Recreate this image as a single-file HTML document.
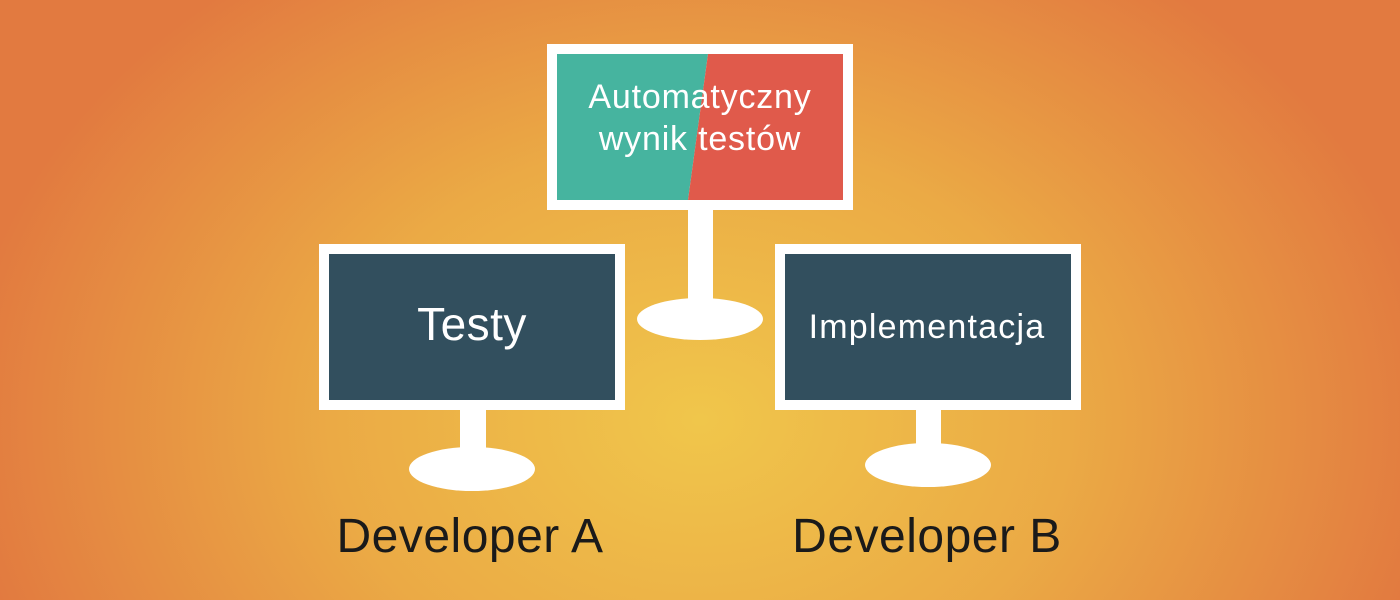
<!DOCTYPE html>
<html><head><meta charset="utf-8"><style>
html,body{margin:0;padding:0}
body{width:1400px;height:600px;overflow:hidden;background:radial-gradient(ellipse 740px 560px at 700px 420px,#f0c64b 0%,#ebaa45 50%,#e27a40 100%);font-family:"Liberation Sans",sans-serif;}
</style></head><body>
<svg width="1400" height="600" style="position:absolute;left:0;top:0">
<rect x="688" y="205" width="25" height="100" fill="#fff"/>
<ellipse cx="700" cy="319" rx="63" ry="21" fill="#fff"/>
<rect x="547" y="44" width="306" height="166" fill="#fff"/>
<polygon points="557,54 708,54 688,200 557,200" fill="#46b49f"/>
<polygon points="708,54 843,54 843,200 688,200" fill="#e05a4b"/>
<text x="700" y="108" text-anchor="middle" font-size="34" letter-spacing="0.8" fill="#fff">Automatyczny</text>
<text x="700" y="150" text-anchor="middle" font-size="34" letter-spacing="0.8" fill="#fff">wynik testów</text>
<rect x="460" y="405" width="26" height="55" fill="#fff"/>
<ellipse cx="472" cy="469" rx="63" ry="22" fill="#fff"/>
<rect x="319" y="244" width="306" height="166" fill="#fff"/>
<rect x="329" y="254" width="286" height="146" fill="#324f5e"/>
<text x="472" y="340" text-anchor="middle" font-size="46" letter-spacing="0.5" fill="#fff">Testy</text>
<rect x="916" y="405" width="25" height="55" fill="#fff"/>
<ellipse cx="928" cy="465" rx="63" ry="22" fill="#fff"/>
<rect x="775" y="244" width="306" height="166" fill="#fff"/>
<rect x="785" y="254" width="286" height="146" fill="#324f5e"/>
<text x="927" y="338" text-anchor="middle" font-size="34" letter-spacing="1.2" fill="#fff">Implementacja</text>
<text x="470" y="552" text-anchor="middle" font-size="48" letter-spacing="0.5" fill="#1a1a1a">Developer A</text>
<text x="927" y="552" text-anchor="middle" font-size="48" letter-spacing="0.5" fill="#1a1a1a">Developer B</text>
</svg>
</body></html>
